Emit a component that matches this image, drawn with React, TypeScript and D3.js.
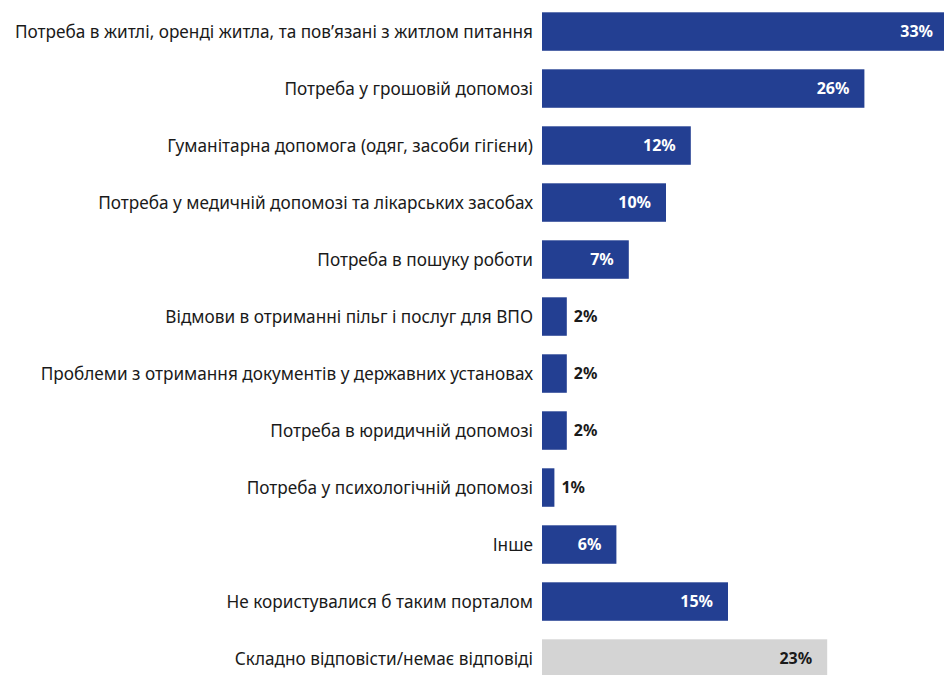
import React from "react";
import * as d3 from "d3";

const categories = [
  "Потреба в житлі, оренді житла, та пов’язані з житлом питання",
  "Потреба у грошовій допомозі",
  "Гуманітарна допомога (одяг, засоби гігієни)",
  "Потреба у медичній допомозі та лікарських засобах",
  "Потреба в пошуку роботи",
  "Відмови в отриманні пільг і послуг для ВПО",
  "Проблеми з отримання документів у державних установах",
  "Потреба в юридичній допомозі",
  "Потреба у психологічній допомозі",
  "Інше",
  "Не користувалися б таким порталом",
  "Складно відповісти/немає відповіді",
];
const values = [33, 26, 12, 10, 7, 2, 2, 2, 1, 6, 15, 23];
const greyCategories = ["Складно відповісти/немає відповіді"];

const W = 944;
const H = 675;
const X0 = 542;
const BLUE = "#233f92";
const GREY = "#d4d4d4";
const FONT = "'Noto Sans', sans-serif";

export default function App() {
  const x = d3.scaleLinear().domain([0, 10]).range([X0, X0 + 124]);
  const y = d3
    .scaleBand<string>()
    .domain(categories)
    .range([12.3, 12.3 + 57 * 11.675])
    .paddingInner(0.325)
    .paddingOuter(0);

  return (
    <div style={{ position: "absolute", left: 0, top: 0, width: W, height: H, overflow: "hidden", background: "#fff" }}>
      <svg width={W} height={H} style={{ display: "block" }}>
        {categories.map((c, i) => {
          const v = values[i];
          const y0 = y(c) ?? 0;
          const bw = y.bandwidth();
          const cy = y0 + bw / 2;
          const grey = greyCategories.includes(c);
          const wBar = x(v) - x(0);
          const inside = v >= 5;
          // the first bar runs past the page edge, so keep its label in view
          const end = Math.min(x(v), W + 4);
          return (
            <g key={c}>
              <text
                x={X0 - 9}
                y={cy}
                dy="0.35em"
                textAnchor="end"
                fontFamily={FONT}
                fontSize={17.2}
                fill="#1a1a1a"
              >
                {c}
              </text>
              <rect x={x(0)} y={y0} width={wBar} height={bw} fill={grey ? GREY : BLUE} />
              <text
                x={inside ? end - 15 : x(v) + 7}
                y={cy}
                dy="0.35em"
                textAnchor={inside ? "end" : "start"}
                fontFamily={FONT}
                fontSize={16}
                fontWeight="bold"
                fill={inside && !grey ? "#fff" : "#1a1a1a"}
              >
                {v}%
              </text>
            </g>
          );
        })}
      </svg>
    </div>
  );
}
